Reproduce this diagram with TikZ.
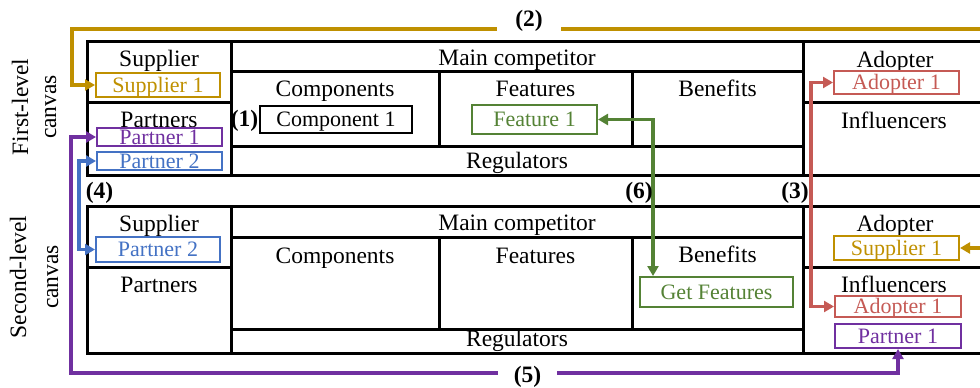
\documentclass[tikz,border=0pt]{standalone}
\usepackage{fontspec}
\setmainfont{Liberation Serif}
\usetikzlibrary{arrows.meta}
\definecolor{cgold}{HTML}{BF9000}
\definecolor{cpurple}{HTML}{7030A0}
\definecolor{cblue}{HTML}{4472C4}
\definecolor{cred}{HTML}{C55A55}
\definecolor{cgreen}{HTML}{548235}
\tikzset{
  frame/.style={line width=3pt},
  lab/.style={font=\fontsize{23.5}{28}\selectfont, anchor=base, inner sep=0pt},
  numlab/.style={font=\bfseries\fontsize{23.5}{28}\selectfont, anchor=base, inner sep=0pt},
  side/.style={font=\fontsize{23.5}{28}\selectfont, anchor=base, inner sep=0pt, rotate=90},
  cbox/.style={draw, line width=2pt, inner sep=0pt, font=\fontsize{22}{26}\selectfont,
    text height=14.5pt, text depth=0pt},
  link/.style={line width=3.4pt,
    {Triangle[length=10pt,width=11pt]}-{Triangle[length=10pt,width=11pt]}}
}
\begin{document}
\begin{tikzpicture}[x=1pt,y=-1pt]
\useasboundingbox (0,0) rectangle (980,388);

% ---------- first-level canvas grid ----------
\draw[frame] (995,41) -- (87,41) -- (87,175) -- (995,175);
\draw[frame] (231,41) -- (231,175);
\draw[frame] (803,41) -- (803,175);
\draw[frame] (87,102) -- (231,102);
\draw[frame] (803,102) -- (995,102);
\draw[frame] (231,71) -- (803,71);
\draw[frame] (231,146) -- (803,146);
\draw[frame] (439,71) -- (439,146);
\draw[frame] (632,71) -- (632,146);

% ---------- second-level canvas grid ----------
\draw[frame] (995,206) -- (87,206) -- (87,353) -- (995,353);
\draw[frame] (231,206) -- (231,353);
\draw[frame] (803,206) -- (803,353);
\draw[frame] (87,267.5) -- (231,267.5);
\draw[frame] (803,267) -- (995,267);
\draw[frame] (231,237) -- (803,237);
\draw[frame] (231,329) -- (803,329);
\draw[frame] (439,237) -- (439,329);
\draw[frame] (632,237) -- (632,329);

% ---------- side captions ----------
\node[side] (lvlAa) at (28,107) {First-level};
\node[side] (lvlAb) at (56,107) {canvas};
\node[side] (lvlBa) at (26,277) {Second-level};
\node[side] (lvlBb) at (58,277) {canvas};

% ---------- cell titles, first level ----------
\node[lab] (supA) at (159,66.5) {Supplier};
\node[lab] (parA) at (159,127.5) {Partners};
\node[lab] (mcA)  at (517,65) {Main competitor};
\node[lab] (comA) at (335,96.7) {Components};
\node[lab] (feaA) at (535.5,96.7) {Features};
\node[lab] (benA) at (717.5,96.7) {Benefits};
\node[lab] (regA) at (517,168) {Regulators};
\node[lab] (adoA) at (895,67.5) {Adopter};
\node[lab] (infA) at (894,128) {Influencers};

% ---------- cell titles, second level ----------
\node[lab] (supB) at (159,231.5) {Supplier};
\node[lab] (parB) at (159,292.5) {Partners};
\node[lab] (mcB)  at (517,230) {Main competitor};
\node[lab] (comB) at (335,263.3) {Components};
\node[lab] (feaB) at (535.5,263.3) {Features};
\node[lab] (benB) at (717.5,262.7) {Benefits};
\node[lab] (regB) at (517,346.7) {Regulators};
\node[lab] (adoB) at (895,231.7) {Adopter};
\node[lab] (infB) at (894,292.7) {Influencers};

% ---------- entries, first level ----------
\node[cbox, cgold,   minimum width=124pt, minimum height=24pt] (s1a) at (158,85) {Supplier 1};
\node[cbox, cpurple, minimum width=125pt, minimum height=18pt] (p1a) at (159.5,137) {Partner 1};
\node[cbox, cblue,   minimum width=125pt, minimum height=18pt] (p2a) at (159.5,161) {Partner 2};
\node[cbox, black,   minimum width=152pt, minimum height=27pt] (c1a) at (336,119.5) {Component 1};
\node[cbox, cgreen,  minimum width=125pt, minimum height=29pt] (f1a) at (534.5,119.5) {Feature 1};
\node[cbox, cred,    minimum width=125pt, minimum height=23pt] (a1a) at (896.5,82.5) {Adopter 1};

% ---------- entries, second level ----------
\node[cbox, cblue,   minimum width=124pt, minimum height=25pt] (p2b) at (158,249.5) {Partner 2};
\node[cbox, cgreen,  minimum width=153pt, minimum height=30pt] (gfb) at (716.5,292) {Get Features};
\node[cbox, cgold,   minimum width=125pt, minimum height=24pt] (s1b) at (896.5,248) {Supplier 1};
\node[cbox, cred,    minimum width=126pt, minimum height=21pt] (a1b) at (898,306.5) {Adopter 1};
\node[cbox, cpurple, minimum width=126pt, minimum height=24pt] (p1b) at (898,336) {Partner 1};

% ---------- links between the two levels ----------
\coordinate (k2a) at (72,29);
\coordinate (k2b) at (1005,248);
\coordinate (k5)  at (71,373);
\coordinate (k6)  at ([xshift=14pt]gfb.north west);

\draw[link, cgold]   (s1a.west) -| (k2a) -| (k2b) -- (s1b.east);
\draw[link, cred]    (a1a.west) -- ++(-22,0) |- (a1b.west);
\draw[link, cblue]   (p2a.west) -- ++(-17,0) |- (p2b.west);
\draw[link, cpurple] (p1a.west) -| (k5) -| (p1b.south);
\draw[link, cgreen]  (f1a.east) -| (k6);

% ---------- link numbers ----------
\node[numlab] (n1) at (244.5,126.7) {(1)};
\node[numlab, fill=white, inner xsep=18.5pt] (n2) at (529,27) {(2)};
\node[numlab] (n3) at (795,198) {(3)};
\node[numlab] (n4) at (99.5,198) {(4)};
\node[numlab, fill=white, inner xsep=15.5pt] (n5) at (527.5,382.5) {(5)};
\node[numlab] (n6) at (639,198) {(6)};
\end{tikzpicture}
\end{document}
